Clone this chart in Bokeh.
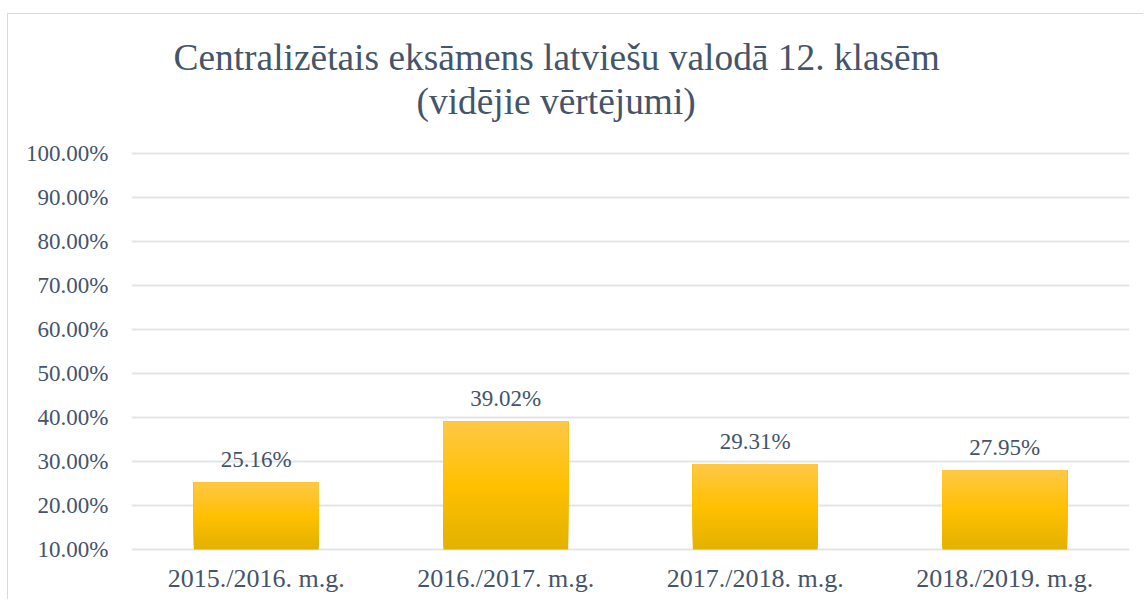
from bokeh.plotting import figure
from bokeh.models import (ColumnDataSource, FactorRange, FixedTicker, NumeralTickFormatter,
                          LabelSet, Range1d, Title)
from bokeh.embed import file_html
from bokeh.resources import INLINE
from bokeh.core.properties import value

# ---- data ----
categories = ["2015./2016. m.g.", "2016./2017. m.g.", "2017./2018. m.g.", "2018./2019. m.g."]
averages = [0.2516, 0.3902, 0.2931, 0.2795]
y_ticks = [0.1, 0.2, 0.3, 0.4, 0.5, 0.6, 0.7, 0.8, 0.9, 1.0]
title_lines = ["Centralizētais eksāmens latviešu valodā 12. klasēm", "(vidējie vērtējumi)"]

FONT = "Liberation Serif"
TXT = "#44546A"
BASE = 0.1
PAD = 0.9 * 2 / 396  # 2px of breathing room so the edge gridlines are not clipped

p = figure(x_range=FactorRange(*categories, range_padding=0),
           y_range=Range1d(BASE - PAD, 1.0 + PAD),
           width=1136, height=586, output_backend="svg", toolbar_location=None,
           min_border_left=123, min_border_right=15, min_border_top=137, min_border_bottom=49)
p.styles = {"margin-left": "7px", "margin-top": "13px",
            "border-left": "1px solid #D9D9D9", "border-top": "1px solid #D9D9D9"}
p.outline_line_color = None
p.background_fill_color = "white"
p.border_fill_color = "white"

# gradient bars: overlapping slices from base to value (each drawn up to the bar top)
def lerp(c1, c2, t):
    return "#%02x%02x%02x" % tuple(int(round(a + (b - a) * t)) for a, b in zip(c1, c2))

top_c, mid_c, bot_c = (255, 200, 70), (255, 192, 0), (226, 177, 0)
N = 40
xs, bots, tops, cols = [], [], [], []
for cat, v in zip(categories, averages):
    for i in range(N):
        f0 = i / N
        fm = (i + 0.5) / N  # 0 bottom, 1 top
        if fm < 0.5:
            col = lerp(bot_c, mid_c, fm / 0.5)
        else:
            col = lerp(mid_c, top_c, (fm - 0.5) / 0.5)
        xs.append(cat)
        bots.append(BASE + (v - BASE) * f0)
        tops.append(v)
        cols.append(col)
p.vbar(x=xs, bottom=bots, top=tops, width=0.5, fill_color=cols, line_color=None)

src = ColumnDataSource(dict(x=categories, y=averages, t=["%.2f%%" % (v * 100) for v in averages]))
p.add_layout(LabelSet(x="x", y="y", text="t", source=src, text_align="center", text_baseline="middle",
                      y_offset=23, text_font=value(FONT), text_font_size="23px", text_color=TXT))

# axes
p.yaxis.ticker = FixedTicker(ticks=y_ticks)
p.yaxis.formatter = NumeralTickFormatter(format="0.00%")
for ax in (p.xaxis[0], p.yaxis[0]):
    ax.axis_line_color = None
    ax.major_tick_line_color = None
    ax.minor_tick_line_color = None
    ax.major_tick_out = 0
    ax.major_tick_in = 0
    ax.major_label_text_font = FONT
    ax.major_label_text_color = TXT
p.yaxis.major_label_text_font_size = "23px"
p.xaxis.major_label_text_font_size = "26px"
p.yaxis.major_label_standoff = 23
p.xaxis.major_label_standoff = 12
p.xgrid.grid_line_color = None
p.ygrid.grid_line_color = "#E1E5EA"
p.ygrid.grid_line_width = 2

# title (two lines; the figure's own title is the upper one)
p.title.text = title_lines[0]
p.title.align = "left"
p.title.offset = 42
p.title.standoff = -59
p.title.text_font = FONT
p.title.text_font_size = "37.4px"
p.title.text_font_style = "normal"
p.title.text_color = TXT
p.add_layout(Title(text=title_lines[1], align="left", offset=285, standoff=60,
                   text_font=FONT, text_font_size="37.4px", text_font_style="normal",
                   text_color=TXT), "above")

open("out.html", "w").write(file_html(p, INLINE))
